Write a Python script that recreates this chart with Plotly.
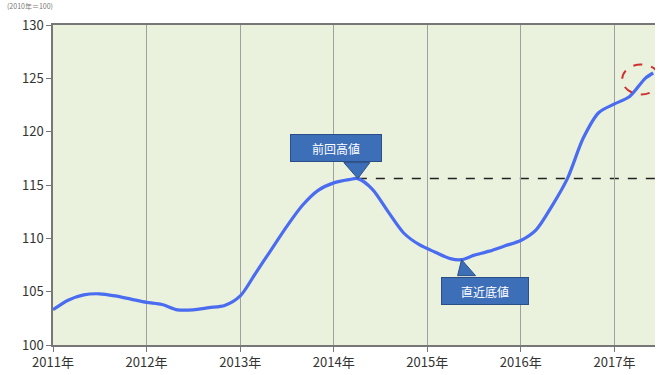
import plotly.graph_objects as go

dates = ["2011-01-01","2011-03-01","2011-05-01","2011-07-01","2011-09-01","2011-11-01",
         "2012-01-01","2012-03-01","2012-05-01","2012-07-01","2012-09-01","2012-11-01",
         "2013-01-01","2013-03-01","2013-05-01","2013-07-01","2013-09-01","2013-11-01",
         "2014-01-01","2014-03-01","2014-04-05","2014-06-01","2014-08-01","2014-10-01","2014-12-01",
         "2015-02-01","2015-04-01","2015-05-15","2015-07-01","2015-09-01","2015-11-01",
         "2016-01-01","2016-03-01","2016-05-01","2016-07-01","2016-09-01","2016-11-01",
         "2017-01-01","2017-03-01","2017-05-01","2017-06-01"]
values = [103.3,104.2,104.7,104.8,104.6,104.3,
          104.0,103.8,103.3,103.3,103.5,103.7,
          104.6,106.7,108.9,111.1,113.1,114.5,
          115.2,115.5,115.6,114.6,112.5,110.5,109.4,
          108.7,108.1,108.0,108.4,108.8,109.3,
          109.8,110.8,113.0,115.6,119.4,121.8,
          122.6,123.3,125.0,125.5]

tick_vals = ["2011-01-01","2012-01-01","2013-01-01","2014-01-01","2015-01-01","2016-01-01","2017-01-01"]
tick_text = ["2011年","2012年","2013年","2014年","2015年","2016年","2017年"]
y_ticks = [100,105,110,115,120,125,130]

peak_date, peak_val = "2014-04-05", 115.6
trough_date, trough_val = "2015-05-15", 108.0
x_end = "2017-06-08"
circle_date, circle_val = "2017-04-15", 124.9

FONT = "Noto Sans CJK JP"
box_color = "#3D6EB8"
box_border = "#2B4E86"

fig = go.Figure()
fig.add_trace(go.Scatter(x=dates, y=values, mode="lines",
                         line=dict(color="#4A6CF0", width=3.2, shape="spline", smoothing=0.8),
                         hoverinfo="skip", showlegend=False))

# dashed reference line from previous high
fig.add_shape(type="line", x0=peak_date, x1=x_end, y0=peak_val, y1=peak_val,
              line=dict(color="#222222", width=1.5, dash="dash"), layer="below")

# callout boxes
fig.add_annotation(x=peak_date, y=peak_val, text="前回高値", showarrow=True,
                   arrowcolor="rgba(0,0,0,0)", ax=-22, ay=-31,
                   bgcolor=box_color, bordercolor=box_border, borderwidth=1,
                   width=88, height=24, font=dict(family=FONT, size=12, color="white"))
fig.add_shape(type="path", xref="x", yref="y", xsizemode="pixel", ysizemode="pixel",
              xanchor=peak_date, yanchor=peak_val,
              path="M 0 0 L -14 16 L 12 16 Z", fillcolor=box_color,
              line=dict(color=box_border, width=1))
fig.add_annotation(x=trough_date, y=trough_val, text="直近底値", showarrow=True,
                   arrowcolor="rgba(0,0,0,0)", ax=23, ay=31,
                   bgcolor=box_color, bordercolor=box_border, borderwidth=1,
                   width=84, height=24, font=dict(family=FONT, size=12, color="white"))
fig.add_shape(type="path", xref="x", yref="y", xsizemode="pixel", ysizemode="pixel",
              xanchor=trough_date, yanchor=trough_val,
              path="M 0 0 L -4 -16 L 14 -16 Z", fillcolor=box_color,
              line=dict(color=box_border, width=1))

# red dashed ellipse
fig.add_shape(type="circle", xref="x", yref="y", xsizemode="pixel", ysizemode="pixel",
              xanchor=circle_date, yanchor=circle_val, x0=-19, x1=19, y0=-15, y1=15,
              line=dict(color="#D03030", width=2, dash="dash"))

fig.add_annotation(xref="paper", yref="paper", x=-48/602, y=1 + 12/324, xanchor="left", yanchor="bottom",
                   text="(2010年＝100)", showarrow=False,
                   font=dict(family=FONT, size=7, color="#777777"))

fig.update_layout(
    width=659, height=375,
    margin=dict(l=53, r=4, t=25, b=26),
    paper_bgcolor="white",
    plot_bgcolor="#EAF1DC",
    font=dict(family=FONT, size=13, color="#333333"),
    xaxis=dict(type="date", range=["2011-01-01", x_end], tickvals=tick_vals, ticktext=tick_text,
               showgrid=True, gridcolor="#A0A0A0", gridwidth=1,
               showline=True, linecolor="#777777", linewidth=1.5, mirror=True,
               ticks="outside", ticklen=5, tickcolor="#777777", zeroline=False,
               tickfont=dict(family=FONT, size=13, color="#333333")),
    yaxis=dict(range=[100, 130], tickvals=y_ticks, showgrid=False,
               showline=True, linecolor="#777777", linewidth=1.5,
               ticks="outside", ticklen=5, tickcolor="#777777", zeroline=False,
               tickfont=dict(family=FONT, size=13, color="#333333")),
)

fig.write_html("out.html", config={"displayModeBar": False},
               post_script="document.body.style.margin='0';")
